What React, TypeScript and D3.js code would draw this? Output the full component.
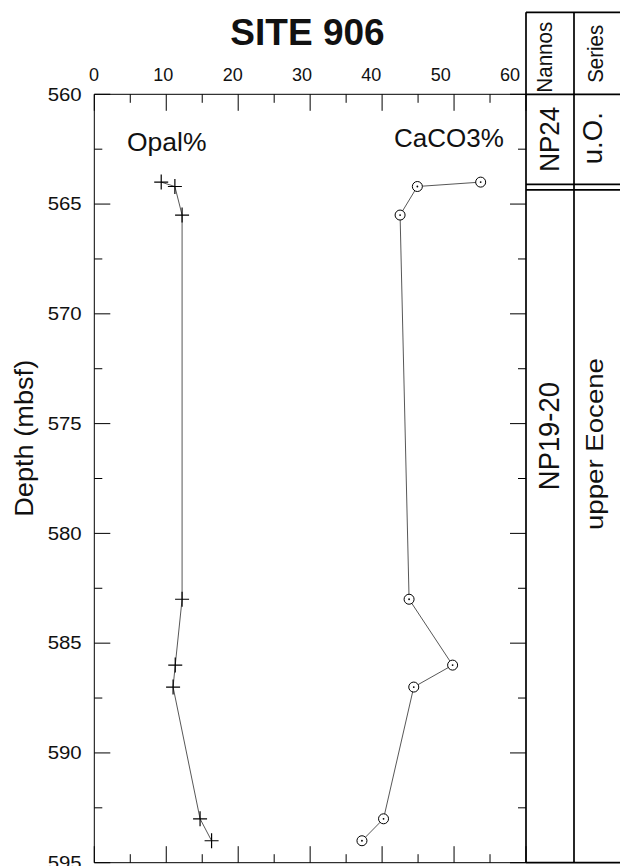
import React, { useEffect, useRef } from 'react';
import * as d3 from 'd3';

// sample depths (mbsf) and the two measured series
const depths = [564.0, 564.2, 565.5, 583.0, 586.0, 587.0, 593.0, 594.0];
const opal = [9.3, 11.2, 12.2, 12.2, 11.25, 10.95, 14.7, 16.3];
const caco3 = [53.7, 44.9, 42.5, 43.75, 49.8, 44.4, 40.2, 37.2];

const pctMajor = [0, 10, 20, 30, 40, 50, 60];
const pctMinor = [5, 15, 25, 35, 45, 55];
const depthMajor = [560, 565, 570, 575, 580, 585, 590, 595];
const depthMinor = [562.5, 567.5, 572.5, 577.5, 582.5, 587.5, 592.5];

// biostratigraphy columns
const zoneTop = [560, 564.23];
const zoneBottom = [564.23, 595];
const nannoZones = ['NP24', 'NP19-20'];
const seriesZones = ['u.O.', 'upper Eocene'];
const nannoLabelAt = [562.05, 575.57];
const seriesLabelAt = [562.0, 575.93];

const FONT = '"Liberation Sans", Arial, Helvetica, sans-serif';

const App: React.FC = () => {
  const svgRef = useRef<SVGSVGElement>(null);

  useEffect(() => {
    if (!svgRef.current) return;
    const svg = d3.select(svgRef.current);
    svg.selectAll('*').remove();

    const X0 = 94.3, X1 = 526, Y0 = 94.3, Y1 = 862.7;
    const COL1 = 574, COLR = 624, HEAD = 12.3;

    const x = d3.scaleLinear().domain([0, 60]).range([X0, X1]);
    const y = d3.scaleLinear().domain([560, 595]).range([Y0, Y1]);
    // the printed tick labels sit on a slightly tighter spacing than the ticks
    const xLab = d3.scaleLinear().domain([0, 60]).range([94, 510]);

    const g = svg.append('g').attr('font-family', FONT).attr('fill', '#111');

    // title
    g.append('text')
      .attr('x', 307.5).attr('y', 45)
      .attr('text-anchor', 'middle')
      .attr('font-size', 37).attr('font-weight', 'bold')
      .text('SITE 906');

    // plot frame
    const frame = g.append('g').attr('stroke', '#000').attr('stroke-width', 1).attr('fill', 'none');
    frame.append('line').attr('x1', X0).attr('x2', X1).attr('y1', Y0).attr('y2', Y0);
    frame.append('line').attr('x1', X0).attr('x2', X0).attr('y1', Y0).attr('y2', Y1);
    frame.append('line').attr('x1', X0).attr('x2', X1).attr('y1', Y1).attr('y2', Y1);

    // ticks, all pointing inward
    const ticks = g.append('g').attr('stroke', '#000').attr('stroke-width', 1);
    const xTicks = (vals: number[], len: number) => {
      vals.forEach(v => {
        ticks.append('line').attr('x1', x(v)).attr('x2', x(v)).attr('y1', Y0).attr('y2', Y0 + len);
        ticks.append('line').attr('x1', x(v)).attr('x2', x(v)).attr('y1', Y1).attr('y2', Y1 - len);
      });
    };
    const yTicks = (vals: number[], len: number) => {
      vals.forEach(v => {
        ticks.append('line').attr('x1', X0).attr('x2', X0 + len).attr('y1', y(v)).attr('y2', y(v));
        ticks.append('line').attr('x1', X1).attr('x2', X1 - len).attr('y1', y(v)).attr('y2', y(v));
      });
    };
    xTicks(pctMajor, 16.5);
    xTicks(pctMinor, 8.5);
    yTicks(depthMajor, 16);
    yTicks(depthMinor, 8);

    // tick labels
    g.append('g').selectAll('text').data(pctMajor).enter().append('text')
      .attr('x', d => xLab(d)).attr('y', 81)
      .attr('text-anchor', 'middle').attr('font-size', 18)
      .text(d => d);
    g.append('g').selectAll('text').data(depthMajor).enter().append('text')
      .attr('x', 81.7).attr('y', d => y(d) + 6.3)
      .attr('text-anchor', 'end').attr('font-size', 18)
      .attr('textLength', 34).attr('lengthAdjust', 'spacingAndGlyphs')
      .text(d => d);

    // axis title
    g.append('text')
      .attr('transform', `translate(33,438.3) rotate(-90)`)
      .attr('text-anchor', 'middle').attr('font-size', 25)
      .attr('textLength', 157).attr('lengthAdjust', 'spacingAndGlyphs')
      .text('Depth (mbsf)');

    // series labels
    g.append('text').attr('x', 127).attr('y', 151).attr('font-size', 26.5).text('Opal%');
    g.append('text').attr('x', 394).attr('y', 146.7).attr('font-size', 26).text('CaCO3%');

    const line = d3.line<number>()
      .x(d => x(d))
      .y((_, i) => y(depths[i]));

    g.append('path').datum(opal).attr('d', line)
      .attr('fill', 'none').attr('stroke', '#444').attr('stroke-width', 0.9);
    g.append('path').datum(caco3).attr('d', line)
      .attr('fill', 'none').attr('stroke', '#444').attr('stroke-width', 0.9);

    // Opal markers: plus signs
    g.append('g').selectAll('path').data(opal).enter().append('path')
      .attr('d', (d, i) => {
        const cx = x(d), cy = y(depths[i]);
        return `M${cx - 7},${cy}h14M${cx},${cy - 7.5}v15`;
      })
      .attr('stroke', '#000').attr('stroke-width', 1.2).attr('fill', 'none');

    // CaCO3 markers: open circles with centre dot
    const cm = g.append('g').selectAll('g').data(caco3).enter().append('g')
      .attr('transform', (d, i) => `translate(${x(d)},${y(depths[i])})`);
    cm.append('circle').attr('r', 5).attr('fill', '#fff').attr('stroke', '#000').attr('stroke-width', 1);
    cm.append('circle').attr('r', 0.9).attr('fill', '#000');

    // stratigraphic columns
    const col = g.append('g').attr('stroke', '#000').attr('stroke-width', 1.7).attr('fill', 'none');
    col.append('line').attr('x1', X1).attr('x2', X1).attr('y1', HEAD).attr('y2', Y1);
    col.append('line').attr('x1', COL1).attr('x2', COL1).attr('y1', HEAD).attr('y2', Y1);
    col.append('line').attr('x1', X1).attr('x2', COLR).attr('y1', HEAD).attr('y2', HEAD);
    col.append('line').attr('x1', X1).attr('x2', COLR).attr('y1', Y0).attr('y2', Y0);
    col.append('line').attr('x1', X1).attr('x2', COLR).attr('y1', Y1).attr('y2', Y1);
    zoneBottom.slice(0, -1).forEach(b => {
      col.append('line').attr('x1', X1).attr('x2', COLR).attr('y1', y(b) - 2.8).attr('y2', y(b) - 2.8);
      col.append('line').attr('x1', X1).attr('x2', COLR).attr('y1', y(b) + 2.8).attr('y2', y(b) + 2.8);
    });

    // column headers
    g.append('text').attr('transform', 'translate(552,57.2) rotate(-90)')
      .attr('text-anchor', 'middle').attr('font-size', 22)
      .attr('textLength', 71).attr('lengthAdjust', 'spacingAndGlyphs').text('Nannos');
    g.append('text').attr('transform', 'translate(602.7,53.8) rotate(-90)')
      .attr('text-anchor', 'middle').attr('font-size', 22)
      .attr('textLength', 58).attr('lengthAdjust', 'spacingAndGlyphs').text('Series');

    // zone labels
    const nannoLen = [65, 108];
    const seriesLen = [52, 172];
    nannoZones.forEach((t, i) => {
      g.append('text').attr('transform', `translate(558.8,${y(nannoLabelAt[i])}) rotate(-90)`)
        .attr('text-anchor', 'middle').attr('font-size', i === 0 ? 27.5 : 29)
        .attr('textLength', nannoLen[i]).attr('lengthAdjust', 'spacingAndGlyphs').text(t);
    });
    seriesZones.forEach((t, i) => {
      g.append('text').attr('transform', `translate(${i === 0 ? 601.7 : 603},${y(seriesLabelAt[i])}) rotate(-90)`)
        .attr('text-anchor', 'middle').attr('font-size', i === 0 ? 27 : 24)
        .attr('textLength', seriesLen[i]).attr('lengthAdjust', 'spacingAndGlyphs').text(t);
    });
    void zoneTop;
  }, []);

  return (
    <svg
      ref={svgRef}
      width={620}
      height={866}
      style={{ position: 'absolute', left: 0, top: 0, background: '#fff' }}
    />
  );
};

export default App;
